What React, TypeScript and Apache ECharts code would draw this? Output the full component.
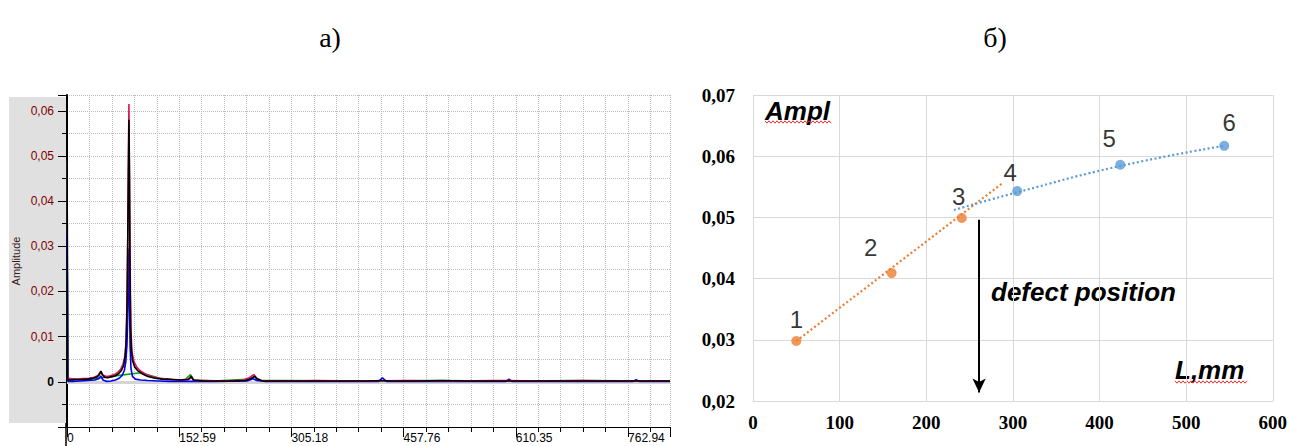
import React, { useEffect, useRef } from "react";
import * as echarts from "echarts";

// ---------- Data: panel a) spectrum (frequency, amplitude) ----------
const spectrumBlack: [number, number][] = [
  [0, 0.0635], [0.8, 0.0005], [5, 0.0004], [12, 0.0005], [20, 0.0005], [28, 0.0006], [35, 0.0008],
  [41, 0.0011], [44, 0.0016], [46, 0.0024], [48, 0.0016], [51, 0.001], [55, 0.0009], [60, 0.0011],
  [65, 0.0013], [70, 0.0018], [74, 0.0025], [77, 0.0036], [79, 0.0055], [80.5, 0.009], [81.5, 0.016],
  [82.5, 0.03], [83.5, 0.047], [84.2, 0.058], [84.9, 0.046], [85.6, 0.025], [86.5, 0.012], [87.5, 0.007],
  [89, 0.0048], [92, 0.0033], [96, 0.0025], [102, 0.0018], [110, 0.0012], [120, 0.0008], [130, 0.0006],
  [142, 0.0005], [155, 0.0004], [165, 0.0005], [169, 0.0012], [172, 0.0004], [185, 0.0002], [205, 0.0002],
  [225, 0.0002], [243, 0.0003], [250, 0.0007], [255, 0.0012], [259, 0.0006], [266, 0.0002], [290, 0.0002],
  [320, 0.0002], [350, 0.0002], [380, 0.0002], [410, 0.0002], [428, 0.0003], [440, 0.0002], [480, 0.0002],
  [510, 0.0003], [540, 0.0002], [580, 0.0002], [620, 0.0002], [660, 0.0002], [700, 0.0002], [740, 0.0002],
  [780, 0.0002], [820, 0.0002],
];
const spectrumPink: [number, number][] = [
  [0, 0.0008], [6, 0.0007], [14, 0.0006], [22, 0.0007], [30, 0.0008], [37, 0.001], [42, 0.0014],
  [46, 0.0023], [49, 0.0015], [53, 0.0012], [58, 0.0013], [64, 0.0016], [69, 0.0021], [73, 0.0028],
  [76, 0.0038], [78.5, 0.0055], [80, 0.008], [81, 0.013], [82, 0.02], [82.8, 0.035], [83.6, 0.05],
  [84.2, 0.0615], [84.8, 0.049], [85.5, 0.035], [86.2, 0.02], [87, 0.011], [88.5, 0.0065], [91, 0.0045],
  [95, 0.0032], [100, 0.0024], [107, 0.0017], [115, 0.0012], [125, 0.0008], [138, 0.0006], [152, 0.0004],
  [166, 0.0006], [169, 0.0009], [173, 0.0003], [190, 0.0003], [215, 0.0002], [240, 0.0004], [248, 0.0009],
  [254, 0.0016], [258, 0.0008], [264, 0.0003], [300, 0.0002], [340, 0.0003], [400, 0.0002], [460, 0.0003],
  [520, 0.0002], [580, 0.0003], [640, 0.0002], [700, 0.0003], [760, 0.0002], [820, 0.0002],
];
const spectrumBlue: [number, number][] = [
  [0, 0.033], [0.4, 0.024], [0.8, 0.016], [1.2, 0.0001], [8, 0.0001], [18, 0.0002], [28, 0.0003],
  [38, 0.0004], [43, 0.0007], [46, 0.0013], [49, 0.0004], [54, 0.0001], [60, 0.0002], [66, 0.0004],
  [71, 0.0008], [75, 0.0014], [78, 0.0025], [80, 0.0045], [81.5, 0.008], [82.5, 0.014], [83.5, 0.022],
  [84.2, 0.0295], [85, 0.018], [85.8, 0.008], [87, 0.003], [89, 0.0012], [93, 0.0006], [100, 0.0004],
  [110, 0.0003], [125, 0.0002], [140, 0.0001], [175, 0.0001], [200, 0.0001], [245, 0.0002], [253, 0.0007],
  [258, 0.0003], [270, 0.0001], [330, 0.0001], [424, 0.0001], [429, 0.0009], [434, 0.0001], [500, 0.0001],
  [597, 0.0001], [601, 0.0006], [605, 0.0001], [770, 0.0001], [774, 0.0005], [778, 0.0001], [820, 0.0001],
];
const spectrumGreen: [number, number][] = [
  [0, 0.0004], [30, 0.0005], [60, 0.0012], [100, 0.002], [130, 0.0006], [160, 0.0004], [168, 0.0016],
  [172, 0.0004], [200, 0.0002], [250, 0.0006], [255, 0.0012], [260, 0.0003], [300, 0.0003], [400, 0.0002],
  [500, 0.0003], [600, 0.0002], [700, 0.0003], [820, 0.0002],
];
const spectrumGray: [number, number][] = [[0, 0.049], [0.5, 0.03], [1, 0.0004], [3, 0.0004]];

// ---------- Data: panel б) amplitude vs position ----------
const pointLabels = ["1", "2", "3", "4", "5", "6"];
const orangePoints: [number, number][] = [[50, 0.0298], [160, 0.0409], [241, 0.0499]];
const bluePoints: [number, number][] = [[305, 0.0543], [424, 0.0586], [544, 0.0617]];
const orangeTrend: [number, number][] = [[50, 0.0298], [288, 0.0556]];
const blueTrend: [number, number][] = [[232, 0.0512], [305, 0.0541], [424, 0.0584], [544, 0.0617]];
const defectX = 261;
const arrowY: [number, number] = [0.0496, 0.0214];

const aTicks = 30.5176; // minor frequency step
const aMajor = 152.588; // labelled frequency step

function wave(x0: number, x1: number, y: number): number[][] {
  const pts: number[][] = [];
  let up = true;
  for (let x = x0; x <= x1; x += 2) {
    pts.push([x, up ? y - 1.2 : y + 1.2]);
    up = !up;
  }
  return pts;
}

export default function App() {
  const ref = useRef<HTMLDivElement>(null);
  useEffect(() => {
    const chart = echarts.init(ref.current!, null, { renderer: "svg" });
    const dotted = { type: "dotted" as const, color: "#bdbdbd", width: 1 };
    const labelOffsets: [number, number][] = [[0, 0], [-21, -4], [-3, 0], [-7, 3], [-11, -4], [5, -1]];
    const mkPts = (pts: [number, number][], start: number) =>
      pts.map((p, i) => ({
        value: p,
        label: {
          show: true,
          position: "top",
          distance: 5,
          formatter: pointLabels[start + i],
          offset: labelOffsets[start + i],
          fontSize: 24,
          fontFamily: "Liberation Sans",
          color: "#000",
        },
      }));
    const leftLine = (data: [number, number][], color: string, z: number, extra: any = {}) => ({
      type: "line",
      xAxisIndex: 0,
      yAxisIndex: 0,
      data,
      showSymbol: false,
      z,
      lineStyle: { color, width: 1.6 },
      ...extra,
    });
    const option: any = {
      animation: false,
      backgroundColor: "#fff",
      grid: [
        { left: 67, right: 620, top: 95, bottom: 19 },
        { left: 753, right: 17, top: 95, bottom: 45 },
      ],
      xAxis: [
        {
          gridIndex: 0,
          type: "value",
          position: "bottom",
          min: 0,
          max: 820,
          interval: aTicks,
          axisLine: { onZero: false, lineStyle: { color: "#000", width: 1 } },
          axisTick: { length: 5, lineStyle: { color: "#000" } },
          splitLine: { lineStyle: dotted },
          axisLabel: {
            align: "left",
            margin: 5,
            fontFamily: "Liberation Sans",
            fontSize: 12,
            color: "#000",
            formatter: (v: number) => {
              const k = v / aMajor;
              if (Math.abs(k - Math.round(k)) > 1e-3 || v > 800) return "";
              return v === 0 ? "0" : v.toFixed(2);
            },
          },
        },
        {
          gridIndex: 1,
          type: "value",
          position: "bottom",
          min: 0,
          max: 600,
          interval: 100,
          axisLine: { onZero: false, lineStyle: { color: "#d9d9d9" } },
          axisTick: { show: false },
          splitLine: { lineStyle: { color: "#d9d9d9", width: 1 } },
          axisLabel: {
            margin: 12,
            fontFamily: "Liberation Serif",
            fontWeight: "bold",
            fontSize: 19,
            color: "#000",
          },
        },
        {
          gridIndex: 0,
          type: "value",
          position: "bottom",
          min: 0,
          max: 820,
          interval: aMajor,
          axisLine: { show: false, onZero: false },
          axisTick: { length: 10, lineStyle: { color: "#000" } },
          splitLine: { show: false },
          axisLabel: { show: false },
        },
      ],
      yAxis: [
        {
          gridIndex: 0,
          type: "value",
          position: "left",
          min: -0.01,
          max: 0.0635,
          interval: 0.005,
          axisLine: { show: true, onZero: false, lineStyle: { color: "#000", width: 2 } },
          axisTick: { show: true, length: 5, lineStyle: { color: "#000" } },
          splitLine: { lineStyle: dotted },
          axisLabel: {
            margin: 13,
            fontFamily: "Liberation Sans",
            fontSize: 12,
            color: "#800000",
            formatter: (v: number) => {
              const k = v / 0.01;
              if (Math.abs(k - Math.round(k)) > 1e-6 || v < -1e-9 || v > 0.0601) return "";
              return Math.round(k) === 0 ? "{z|0}" : v.toFixed(2).replace(".", ",");
            },
            rich: { z: { fontWeight: "bold", color: "#000", fontSize: 12, fontFamily: "Liberation Sans" } },
          },
          name: "Amplitude",
          nameLocation: "middle",
          nameRotate: 90,
          nameGap: 46,
          nameTextStyle: { fontFamily: "Liberation Sans", fontSize: 11, color: "#3a1a1a" },
        },
        {
          gridIndex: 1,
          type: "value",
          position: "left",
          min: 0.02,
          max: 0.07,
          interval: 0.01,
          axisLine: { show: false, onZero: false },
          axisTick: { show: false },
          splitLine: { lineStyle: { color: "#d9d9d9", width: 1 } },
          axisLabel: {
            margin: 18,
            fontFamily: "Liberation Serif",
            fontWeight: "bold",
            fontSize: 19,
            color: "#000",
            formatter: (v: number) => v.toFixed(2).replace(".", ","),
          },
        },
        {
          gridIndex: 0,
          type: "value",
          position: "left",
          min: -0.01,
          max: 0.0635,
          interval: 0.01,
          axisLine: { show: false, onZero: false },
          axisTick: { show: true, length: 9, lineStyle: { color: "#000" } },
          splitLine: { show: false },
          axisLabel: { show: false },
        },
      ],
      series: [
        leftLine(spectrumGreen, "#10a010", 3, {
          markLine: {
            silent: true,
            symbol: "none",
            label: { show: false },
            lineStyle: { color: "#d4d4d4", width: 3, type: "solid" },
            data: [{ yAxis: 0 }],
          },
        }),
        leftLine(spectrumGray, "#707070", 4),
        leftLine(spectrumBlue, "#0000ff", 5),
        leftLine(spectrumPink, "#e0105a", 6),
        leftLine(spectrumBlack, "#000000", 7),
        {
          type: "line",
          xAxisIndex: 1,
          yAxisIndex: 1,
          data: orangeTrend,
          showSymbol: false,
          lineStyle: { color: "#ED7D31", width: 2.2, type: [2, 2.5] },
          z: 3,
        },
        {
          type: "line",
          xAxisIndex: 1,
          yAxisIndex: 1,
          data: blueTrend,
          smooth: true,
          showSymbol: false,
          lineStyle: { color: "#5B9BD5", width: 2.2, type: [2, 2.5] },
          z: 3,
        },
        {
          type: "scatter",
          xAxisIndex: 1,
          yAxisIndex: 1,
          data: mkPts(orangePoints, 0),
          symbolSize: 10,
          itemStyle: { color: "#ED7D31" },
          z: 5,
          markLine: {
            silent: true,
            symbol: ["none", "arrow"],
            symbolSize: [10, 14],
            label: { show: false },
            lineStyle: { color: "#000", width: 2, type: "solid" },
            data: [[{ coord: [defectX, arrowY[0]] }, { coord: [defectX, arrowY[1]] }]],
          },
        },
        {
          type: "scatter",
          xAxisIndex: 1,
          yAxisIndex: 1,
          data: mkPts(bluePoints, 3),
          symbolSize: 10,
          itemStyle: { color: "#5B9BD5" },
          z: 5,
        },
      ],
      graphic: [
        { type: "rect", z: -1, shape: { x: 9, y: 97, width: 57, height: 326 }, style: { fill: "#e0e0e0" } },
        { type: "line", shape: { x1: 66, y1: 423, x2: 66, y2: 446 }, style: { stroke: "#000", lineWidth: 1.5 } },
        {
          type: "text",
          x: 330,
          y: 37,
          style: { text: "а)", font: '28px "Liberation Serif"', fill: "#000", align: "center", verticalAlign: "middle" },
        },
        {
          type: "text",
          x: 995,
          y: 37,
          style: { text: "б)", font: '28px "Liberation Serif"', fill: "#000", align: "center", verticalAlign: "middle" },
        },
        {
          type: "text",
          x: 765,
          y: 111,
          style: { text: "Ampl", font: 'italic bold 26px "Liberation Sans"', fill: "#000", align: "left", verticalAlign: "middle" },
        },
        {
          type: "text",
          x: 991,
          y: 292,
          style: { text: "defect position", font: 'italic bold 26px "Liberation Sans"', fill: "#000", align: "left", verticalAlign: "middle" },
        },
        {
          type: "text",
          x: 1175,
          y: 370,
          style: { text: "L,mm", font: 'italic bold 26px "Liberation Sans"', fill: "#000", align: "left", verticalAlign: "middle" },
        },
        { type: "polyline", shape: { points: wave(765, 832, 122) }, style: { stroke: "#e03030", lineWidth: 1, fill: "none" } },
        { type: "polyline", shape: { points: wave(1175, 1247, 382) }, style: { stroke: "#e03030", lineWidth: 1, fill: "none" } },
      ],
    };
    chart.setOption(option);
    return () => chart.dispose();
  }, []);
  return (
    <div
      ref={ref}
      style={{ position: "fixed", left: 0, top: 0, width: 1290, height: 446, background: "#fff" }}
    />
  );
}
